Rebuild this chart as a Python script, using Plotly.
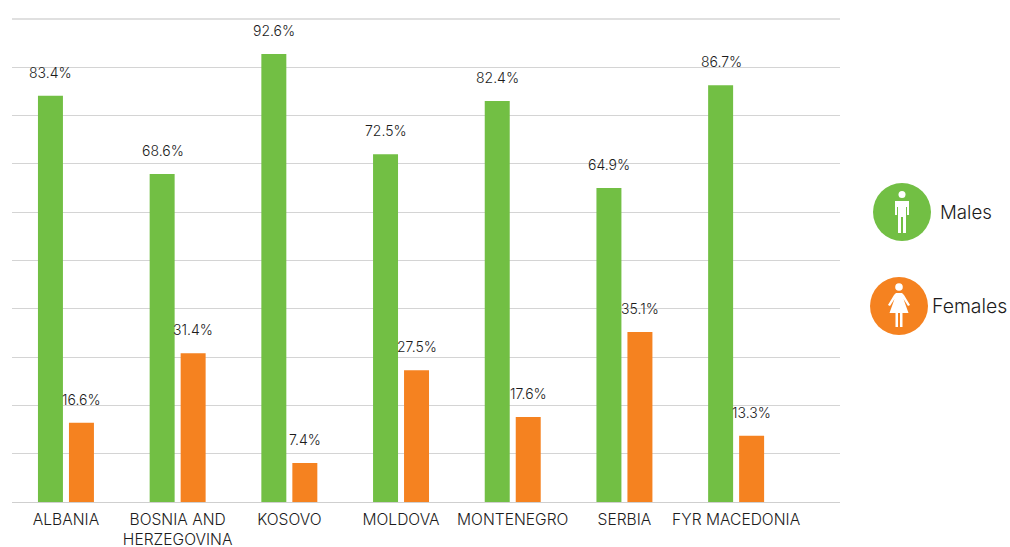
import plotly.graph_objects as go

categories = ["ALBANIA", "BOSNIA AND<br>HERZEGOVINA", "KOSOVO", "MOLDOVA", "MONTENEGRO", "SERBIA", "FYR MACEDONIA"]
male_bars = [84.1, 67.9, 92.75, 72.0, 83.0, 65.0, 86.3]
female_bars = [16.4, 30.8, 8.1, 27.3, 17.6, 35.2, 13.7]
male_labels = ["83.4%", "68.6%", "92.6%", "72.5%", "82.4%", "64.9%", "86.7%"]
female_labels = ["16.6%", "31.4%", "7.4%", "27.5%", "17.6%", "35.1%", "13.3%"]
y_ticks = [0, 10, 20, 30, 40, 50, 60, 70, 80, 90]

GREEN = "#72BF44"
ORANGE = "#F58220"
FONT = "Inter"
TEXT = "#1c1c1c"

L, R, T, B = 12, 840, 19, 502
def px(x): return (x - L) / (R - L)
def py(y): return (B - y) / (B - T)

def path(cx, cy, pts):
    out = []
    for i, (x, y) in enumerate(pts):
        out.append(("M" if i == 0 else "L") + f"{px(cx + x):.5f},{py(cy + y):.5f}")
    return " ".join(out) + " Z"

def circle(cx, cy, r, color):
    return dict(type="circle", xref="paper", yref="paper", x0=px(cx - r), x1=px(cx + r),
                y0=py(cy + r), y1=py(cy - r), fillcolor=color, line=dict(width=0), layer="above")

def glyph(cx, cy, pts):
    return dict(type="path", xref="paper", yref="paper", path=path(cx, cy, pts),
                fillcolor="white", line=dict(width=0), layer="above")

fig = go.Figure()
fig.add_bar(x=categories, y=male_bars, name="Males", marker_color=GREEN, marker_line_width=0)
fig.add_bar(x=categories, y=female_bars, name="Females", marker_color=ORANGE, marker_line_width=0)

annotations = []
for i, c in enumerate(categories):
    for vals, labs, dx in ((male_bars, male_labels, -15), (female_bars, female_labels, 15.5)):
        annotations.append(dict(x=c, y=vals[i], xref="x", yref="y", text=labs[i], showarrow=False,
                                xshift=dx, yshift=23.5, xanchor="center", yanchor="middle",
                                font=dict(family=FONT, size=14, color=TEXT, weight=300)))
annotations.append(dict(x=px(940), y=py(212), xref="paper", yref="paper", text="Males", showarrow=False,
                        xanchor="left", yanchor="middle", xshift=-2, font=dict(family=FONT, size=18.7, color=TEXT, weight=300)))
annotations.append(dict(x=px(932), y=py(306), xref="paper", yref="paper", text="Females", showarrow=False,
                        xanchor="left", yanchor="middle", xshift=-2, font=dict(family=FONT, size=19.4, color=TEXT, weight=300)))

MX, MY = 902, 212
FX, FY = 899, 306
male_body = [(-7, -11), (7, -11), (7, 3), (5, 3), (5, -5), (4, -5), (4, 21), (1, 21), (1, 5), (-1, 5), (-1, 21), (-4, 21), (-4, -5), (-5, -5), (-5, 3), (-7, 3)]
female_body = [(-3, -13), (3, -13), (5, -11), (11, -1), (9, 0), (4.5, -7), (9.5, 7), (3.5, 7), (3.5, 21), (1, 21), (1, 7), (-1, 7), (-1, 21), (-3.5, 21), (-3.5, 7), (-9.5, 7), (-4.5, -7), (-9, 0), (-11, -1), (-5, -11)]

shapes = [
    dict(type="line", xref="paper", yref="paper", x0=0, x1=1, y0=1, y1=1, line=dict(color="#e0e0e0", width=2), layer="below"),
    circle(MX, MY, 29, GREEN),
    circle(FX, FY, 29, ORANGE),
    circle(MX, MY - 17.5, 3.5, "white"),
    circle(FX, FY - 19, 3.8, "white"),
    glyph(MX, MY, male_body),
    glyph(FX, FY, female_body),
]

fig.update_layout(
    width=1010, height=547,
    margin=dict(l=L, r=1010 - R, t=T, b=547 - B, pad=0, autoexpand=False),
    paper_bgcolor="white", plot_bgcolor="white",
    barmode="group", bargap=0.445, bargroupgap=0.194,
    showlegend=False,
    annotations=annotations, shapes=shapes,
    font=dict(family=FONT, color=TEXT),
    xaxis=dict(type="category", categoryorder="array", categoryarray=categories,
               range=[-0.483, 6.93], showgrid=False, zeroline=False, automargin=False,
               showline=True, linecolor="#cfcfcf", linewidth=1, ticks="", ticklabelstandoff=3,
               tickangle=0, tickfont=dict(family=FONT, size=15.6, color=TEXT, weight=300)),
    yaxis=dict(range=[0, 100], tickvals=y_ticks, showticklabels=False, showgrid=True, automargin=False,
               gridcolor="#d4d4d4", gridwidth=1, zeroline=False, ticks=""),
)
fig.write_html("out.html", config=dict(displayModeBar=False),
               post_script="document.body.style.margin='0';document.documentElement.style.overflow='hidden';")
